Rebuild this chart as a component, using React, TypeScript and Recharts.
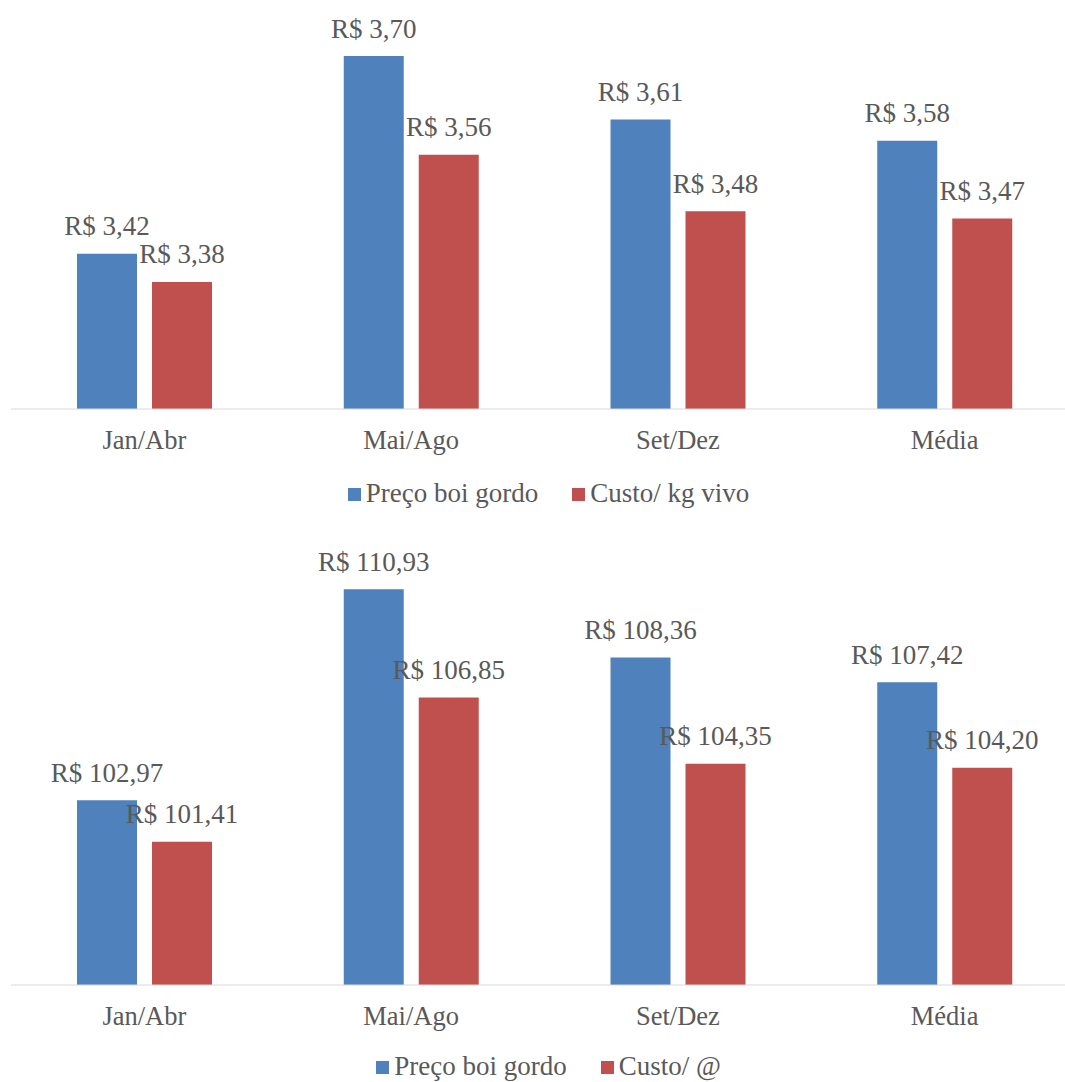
import { BarChart, Bar, XAxis, YAxis, LabelList, Legend } from 'recharts';

const categories = ['Jan/Abr', 'Mai/Ago', 'Set/Dez', 'Média'];

// R$ por kg vivo
const precoKg = [3.42, 3.7, 3.61, 3.58];
const custoKg = [3.38, 3.56, 3.48, 3.47];

// R$ por arroba
const precoArroba = [102.97, 110.93, 108.36, 107.42];
const custoArroba = [101.41, 106.85, 104.35, 104.2];

const BLUE = '#4F81BD';
const RED = '#C0504D';
const TEXT = '#595959';
const FONT = '"Liberation Serif", "Times New Roman", serif';

const kgData = categories.map((name, i) => ({ name, preco: precoKg[i], custo: custoKg[i] }));
const arrobaData = categories.map((name, i) => ({ name, preco: precoArroba[i], custo: custoArroba[i] }));

const formatReal = (value: number) => `R$ ${Number(value).toFixed(2).replace('.', ',')}`;

// value label above each bar, no wrapping
const renderTopLabel = (props: any) => {
  const { x, y, width, value } = props;
  return (
    <text
      x={Number(x) + Number(width) / 2}
      y={Number(y) - 18.5}
      textAnchor="middle"
      fill={TEXT}
      fontSize={27}
      fontFamily={FONT}
    >
      {formatReal(value)}
    </text>
  );
};

const renderLegend = (labels: string[]) => () => (
  <div
    style={{
      display: 'flex',
      justifyContent: 'center',
      gap: 34,
      fontFamily: FONT,
      fontSize: 27,
      lineHeight: '30px',
      color: TEXT,
    }}
  >
    {labels.map((label, i) => (
      <div key={label} style={{ display: 'flex', alignItems: 'flex-start', gap: 5 }}>
        <span
          style={{
            width: 13,
            height: 13,
            marginTop: 10,
            backgroundColor: i === 0 ? BLUE : RED,
            display: 'inline-block',
          }}
        />
        <span>{label}</span>
      </div>
    ))}
  </div>
);

interface PanelProps {
  data: { name: string; preco: number; custo: number }[];
  domain: [number, number];
  height: number;
  marginTop: number;
  marginBottom: number;
  legendTop: number;
  legendLabels: string[];
}

function Panel({ data, domain, height, marginTop, marginBottom, legendTop, legendLabels }: PanelProps) {
  return (
    <BarChart
      width={1080}
      height={height}
      data={data}
      margin={{ top: marginTop, right: 2, left: 11, bottom: marginBottom }}
      barGap={15}
    >
      <XAxis
        dataKey="name"
        axisLine={{ stroke: '#D9D9D9', strokeWidth: 1 }}
        tickLine={false}
        tickSize={0}
        tickMargin={21}
        height={30}
        tick={{ fill: TEXT, fontSize: 26.5, fontFamily: FONT }}
      />
      <YAxis hide domain={domain} allowDataOverflow />
      <Legend
        layout="horizontal"
        verticalAlign="middle"
        align="center"
        wrapperStyle={{ top: legendTop, left: 0, width: 1097 }}
        content={renderLegend(legendLabels)}
      />
      <Bar dataKey="preco" name={legendLabels[0]} fill={BLUE} barSize={60} isAnimationActive={false}>
        <LabelList dataKey="preco" content={renderTopLabel} />
      </Bar>
      <Bar dataKey="custo" name={legendLabels[1]} fill={RED} barSize={60} isAnimationActive={false}>
        <LabelList dataKey="custo" content={renderTopLabel} />
      </Bar>
    </BarChart>
  );
}

export default function App() {
  return (
    <div
      style={{
        position: 'fixed',
        top: 0,
        left: 0,
        width: 1065,
        height: 1082,
        overflow: 'hidden',
        background: '#fff',
      }}
    >
      <div style={{ position: 'absolute', top: 0, left: 0 }}>
        <Panel
          data={kgData}
          domain={[3.2, 3.7]}
          height={520}
          marginTop={56}
          marginBottom={81}
          legendTop={478}
          legendLabels={['Preço boi gordo', 'Custo/ kg vivo']}
        />
      </div>
      <div style={{ position: 'absolute', top: 530, left: 0 }}>
        <Panel
          data={arrobaData}
          domain={[96, 112]}
          height={560}
          marginTop={31}
          marginBottom={75}
          legendTop={521}
          legendLabels={['Preço boi gordo', 'Custo/ @']}
        />
      </div>
    </div>
  );
}
